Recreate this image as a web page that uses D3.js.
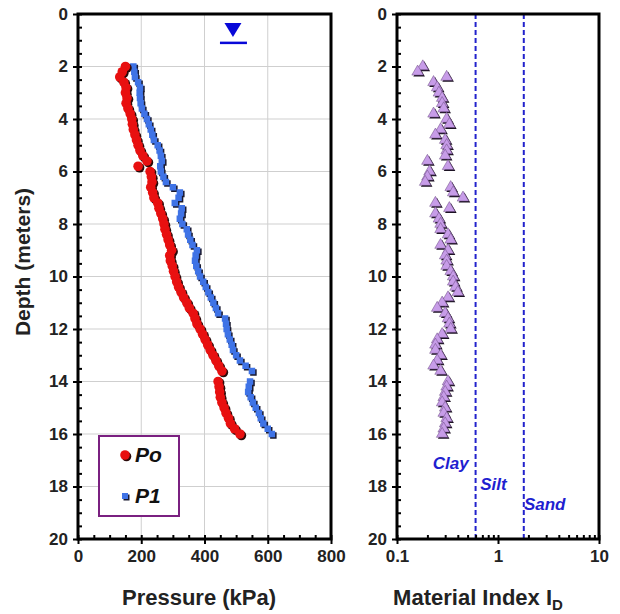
<!DOCTYPE html>
<html>
<head>
<meta charset="utf-8">
<script src="https://cdn.jsdelivr.net/npm/d3@7"></script>
<style>
  body { margin: 0; background: #fff; }
  text { font-family: "Liberation Sans", Arial, sans-serif; }
</style>
</head>
<body>
<div id="chart"></div>
<script>
// depth of each DMT reading (m)
var depths = [2.0, 2.2, 2.4, 2.6, 2.8, 3.0, 3.2, 3.4, 3.6, 3.8,
  4.0, 4.2, 4.4, 4.6, 4.8, 5.0, 5.2, 5.4, 5.6, 5.8,
  6.0, 6.2, 6.4, 6.6, 6.8, 7.0, 7.2, 7.4, 7.6, 7.8,
  8.0, 8.2, 8.4, 8.6, 8.8, 9.0, 9.2, 9.4, 9.6, 9.8,
  10.0, 10.2, 10.4, 10.6, 10.8, 11.0, 11.2, 11.4, 11.6, 11.8,
  12.0, 12.2, 12.4, 12.6, 12.8, 13.0, 13.2, 13.4, 13.6,
  14.0, 14.2, 14.4, 14.6, 14.8, 15.0, 15.2, 15.4, 15.6, 15.8, 16.0];

// Po pressure (kPa)
var po = [150, 140, 132, 145, 152, 150, 155, 152, 158, 165,
  170, 172, 175, 180, 185, 190, 196, 205, 218, 190,
  228, 232, 234, 230, 236, 240, 252, 256, 262, 268,
  272, 275, 280, 285, 290, 296, 290, 292, 298, 302,
  307, 312, 318, 326, 334, 344, 352, 364, 370, 376,
  386, 394, 402, 410, 418, 427, 436, 445, 455,
  443, 446, 448, 450, 455, 462, 468, 476, 482, 495, 512];

// P1 pressure (kPa)
var p1 = [175, 178, 180, 190, 196, 195, 196, 198, 202, 210,
  218, 224, 230, 235, 240, 252, 258, 262, 265, 260,
  262, 270, 278, 300, 322, 318, 306, 328, 326, 322,
  330, 344, 348, 355, 362, 376, 372, 370, 374, 380,
  386, 396, 404, 412, 420, 428, 436, 443, 465, 468,
  470, 474, 480, 486, 490, 500, 512, 530, 550,
  544, 540, 538, 546, 553, 562, 572, 578, 586, 600, 613];

// material index ID
var matIndex = [0.18, 0.16, 0.31, 0.23, 0.25, 0.26, 0.28, 0.28, 0.29, 0.23,
  0.31, 0.33, 0.27, 0.24, 0.30, 0.31, 0.31, 0.30, 0.20, 0.32,
  0.21, 0.20, 0.19, 0.34, 0.36, 0.45, 0.24, 0.33, 0.24, 0.26,
  0.27, 0.27, 0.32, 0.34, 0.27, 0.32, 0.30, 0.31, 0.31, 0.34,
  0.36, 0.36, 0.38, 0.40, 0.32, 0.28, 0.25, 0.30, 0.32, 0.33,
  0.34, 0.28, 0.25, 0.24, 0.24, 0.27, 0.25, 0.23, 0.27,
  0.32, 0.31, 0.30, 0.29, 0.28, 0.30, 0.29, 0.31, 0.30, 0.29, 0.28];

// soil type boundaries on ID
var soilBounds = [0.6, 1.8];
var soilLabels = [
  { name: "Clay", id: 0.34, depth: 17.35 },
  { name: "Silt", id: 0.9, depth: 18.15 },
  { name: "Sand", id: 2.9, depth: 18.9 }
];
var waterTable = { p: 490, depth: 1.1 };

var depthTicks = d3.range(0, 21, 2);
var depthMinor = d3.range(0, 20.01, 0.5);
var pressTicks = [0, 200, 400, 600, 800];
var pressMinor = d3.range(0, 801, 50);
var idTicks = [0.1, 1, 10];

var svgWidth = 620;
var svgHeight = 614;

var svg = d3.select("#chart")
  .append("svg")
  .attr("width", svgWidth)
  .attr("height", svgHeight);

var y = d3.scaleLinear().domain([0, 20]).range([14, 539]);
var xP = d3.scaleLinear().domain([0, 800]).range([78, 331]);
var xI = d3.scaleLog().domain([0.1, 10]).range([397, 599]);

// ---------- left panel: pressures ----------
var left = svg.append("g");

// grid
left.selectAll(".vgrid")
  .data([200, 400, 600])
  .enter().append("line")
  .attr("x1", d => xP(d)).attr("x2", d => xP(d))
  .attr("y1", y(0)).attr("y2", y(20))
  .attr("stroke", "#cfcfcf").attr("stroke-width", 1);

left.selectAll(".hgrid")
  .data(d3.range(2, 20, 2))
  .enter().append("line")
  .attr("x1", xP(0)).attr("x2", xP(800))
  .attr("y1", d => y(d)).attr("y2", d => y(d))
  .attr("stroke", "#cfcfcf").attr("stroke-width", 1);

// water table marker
var wx = xP(waterTable.p), wy = y(waterTable.depth);
left.append("path")
  .attr("d", `M${wx - 8.5},${wy - 20} L${wx + 8.5},${wy - 20} L${wx},${wy - 6} Z`)
  .attr("fill", "#0808d8");
left.append("line")
  .attr("x1", wx - 13).attr("x2", wx + 14)
  .attr("y1", wy).attr("y2", wy)
  .attr("stroke", "#0808d8").attr("stroke-width", 2.5);

var pts = depths.map((d, i) => ({ depth: d, po: po[i], p1: p1[i], id: matIndex[i] }));

// P1 squares (shadow, then fill)
var sq = 6.5;
left.selectAll(".p1s")
  .data(pts).enter().append("rect")
  .attr("x", d => xP(d.p1) - sq / 2 + 1.5)
  .attr("y", d => y(d.depth) - sq / 2 + 1.5)
  .attr("width", sq).attr("height", sq)
  .attr("fill", "#1a1a30");
left.selectAll(".p1")
  .data(pts).enter().append("rect")
  .attr("x", d => xP(d.p1) - sq / 2)
  .attr("y", d => y(d.depth) - sq / 2)
  .attr("width", sq).attr("height", sq)
  .attr("fill", "#3f73e6");

// Po circles
left.selectAll(".pos")
  .data(pts).enter().append("circle")
  .attr("cx", d => xP(d.po) + 1.5)
  .attr("cy", d => y(d.depth) + 1.5)
  .attr("r", 4.8)
  .attr("fill", "#2a0a0a");
left.selectAll(".po")
  .data(pts).enter().append("circle")
  .attr("cx", d => xP(d.po))
  .attr("cy", d => y(d.depth))
  .attr("r", 4.8)
  .attr("fill", "#e81010");

// axes
function styleAxis(g) {
  g.select(".domain").remove();
  g.selectAll("line").attr("stroke", "#000").attr("stroke-width", 2);
  g.selectAll("text")
    .attr("font-size", 17).attr("font-weight", "bold")
    .attr("fill", "#222");
}

left.append("g")
  .attr("transform", `translate(${xP(0)},0)`)
  .call(d3.axisLeft(y).tickValues(depthTicks).tickSize(5).tickPadding(5))
  .call(styleAxis);
left.append("g")
  .attr("transform", `translate(${xP(0)},0)`)
  .call(d3.axisRight(y).tickValues(depthMinor).tickSize(4).tickFormat(""))
  .call(styleAxis);

left.append("g")
  .attr("transform", `translate(0,${y(20)})`)
  .call(d3.axisBottom(xP).tickValues(pressTicks).tickSize(5).tickPadding(6))
  .call(styleAxis);
left.append("g")
  .attr("transform", `translate(0,${y(20)})`)
  .call(d3.axisTop(xP).tickValues(pressMinor).tickSize(4).tickFormat(""))
  .call(styleAxis);

left.append("rect")
  .attr("x", xP(0)).attr("y", y(0))
  .attr("width", xP(800) - xP(0)).attr("height", y(20) - y(0))
  .attr("fill", "none").attr("stroke", "#000").attr("stroke-width", 3);

// legend
var leg = left.append("g");
leg.append("rect")
  .attr("x", 99).attr("y", 436).attr("width", 80).attr("height", 80)
  .attr("fill", "#fff").attr("stroke", "#7a2080").attr("stroke-width", 2);
leg.append("circle").attr("cx", 126.5).attr("cy", 456.5).attr("r", 4.8).attr("fill", "#2a0a0a");
leg.append("circle").attr("cx", 125).attr("cy", 455).attr("r", 4.8).attr("fill", "#e81010");
leg.append("rect").attr("x", 123.5).attr("y", 494.5).attr("width", 6).attr("height", 6).attr("fill", "#1a1a30");
leg.append("rect").attr("x", 122).attr("y", 493).attr("width", 6).attr("height", 6).attr("fill", "#3f73e6");
leg.append("text").attr("x", 135).attr("y", 462).text("Po")
  .attr("font-size", 21).attr("font-weight", "bold").attr("font-style", "italic").attr("fill", "#111");
leg.append("text").attr("x", 135).attr("y", 503).text("P1")
  .attr("font-size", 21).attr("font-weight", "bold").attr("font-style", "italic").attr("fill", "#111");

// titles
svg.append("text")
  .attr("transform", `translate(30,262) rotate(-90)`)
  .attr("text-anchor", "middle")
  .attr("font-size", 21).attr("font-weight", "bold").attr("fill", "#222")
  .text("Depth (meters)");

svg.append("text")
  .attr("x", 199).attr("y", 605)
  .attr("text-anchor", "middle")
  .attr("font-size", 22).attr("font-weight", "bold").attr("fill", "#222")
  .text("Pressure (kPa)");

// ---------- right panel: material index ----------
var right = svg.append("g");

right.selectAll(".bound")
  .data(soilBounds).enter().append("line")
  .attr("x1", d => xI(d)).attr("x2", d => xI(d))
  .attr("y1", y(0)).attr("y2", y(20))
  .attr("stroke", "#2222cc").attr("stroke-width", 2)
  .attr("stroke-dasharray", "5,3");

right.selectAll(".soil")
  .data(soilLabels).enter().append("text")
  .attr("x", d => xI(d.id)).attr("y", d => y(d.depth))
  .attr("text-anchor", "middle")
  .attr("font-size", 17).attr("font-weight", "bold").attr("font-style", "italic")
  .attr("fill", "#1f1fd0")
  .text(d => d.name);

var tri = d3.symbol().type(d3.symbolTriangle).size(58);
right.selectAll(".ids")
  .data(pts).enter().append("path")
  .attr("d", tri)
  .attr("transform", d => `translate(${xI(d.id) + 1.5},${y(d.depth) + 1.5})`)
  .attr("fill", "#1a1020");
right.selectAll(".id")
  .data(pts).enter().append("path")
  .attr("d", tri)
  .attr("transform", d => `translate(${xI(d.id)},${y(d.depth)})`)
  .attr("fill", "#c79ce8")
  .attr("stroke", "#6a4a80").attr("stroke-width", 0.5);

right.append("g")
  .attr("transform", `translate(${xI(0.1)},0)`)
  .call(d3.axisLeft(y).tickValues(depthTicks).tickSize(5).tickPadding(5))
  .call(styleAxis);
right.append("g")
  .attr("transform", `translate(${xI(0.1)},0)`)
  .call(d3.axisRight(y).tickValues(depthMinor).tickSize(4).tickFormat(""))
  .call(styleAxis);

right.append("g")
  .attr("transform", `translate(0,${y(20)})`)
  .call(d3.axisBottom(xI).tickValues(idTicks).tickSize(5).tickPadding(6).tickFormat(d3.format("~g")))
  .call(styleAxis);
right.append("g")
  .attr("transform", `translate(0,${y(20)})`)
  .call(d3.axisTop(xI).tickValues(xI.ticks()).tickSize(4).tickFormat(""))
  .call(styleAxis);

right.append("rect")
  .attr("x", xI(0.1)).attr("y", y(0))
  .attr("width", xI(10) - xI(0.1)).attr("height", y(20) - y(0))
  .attr("fill", "none").attr("stroke", "#000").attr("stroke-width", 3);

var idTitle = svg.append("text")
  .attr("x", 478).attr("y", 605)
  .attr("text-anchor", "middle")
  .attr("font-size", 22).attr("font-weight", "bold").attr("fill", "#222");
idTitle.append("tspan").text("Material Index I");
idTitle.append("tspan").attr("font-size", 15).attr("dy", 5).text("D");
</script>
</body>
</html>
